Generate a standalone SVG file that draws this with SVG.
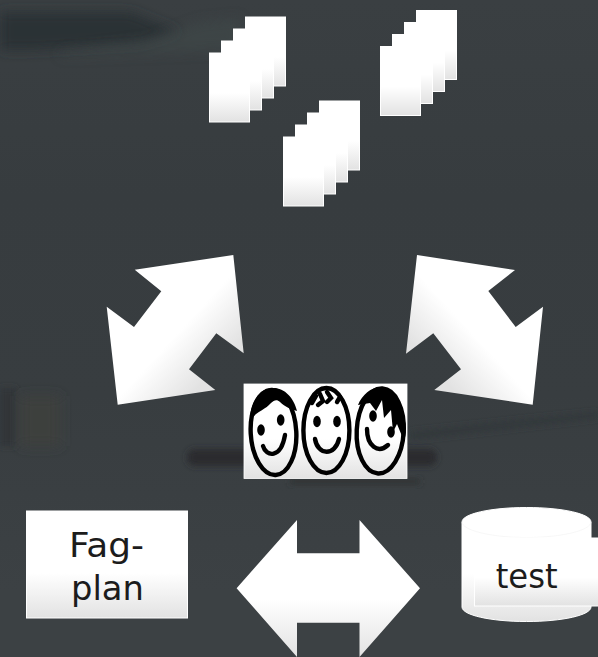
<svg xmlns="http://www.w3.org/2000/svg" xmlns:xlink="http://www.w3.org/1999/xlink" width="598" height="657" viewBox="0 0 598 657">
<style>
.lbl{font-family:"DejaVu Sans","Liberation Sans",sans-serif;font-size:34px;fill:#1c1c1c;text-anchor:middle}
.shape{fill:url(#g);stroke:#fff;stroke-width:1}
.face{fill:none;stroke:#000;stroke-width:4.4}
.ink{fill:#000}
.smile{fill:none;stroke:#000;stroke-width:4.4;stroke-linecap:round}
</style>
<defs>
<linearGradient id="bg" x1="0" y1="0" x2="0" y2="1"><stop offset="0" stop-color="#3a3f42"/><stop offset=".3" stop-color="#373c3f"/><stop offset=".6" stop-color="#383d40"/><stop offset=".9" stop-color="#3c4144"/></linearGradient>
<linearGradient id="g" x1="0" y1="0" x2="0" y2="1"><stop offset="0" stop-color="#fff"/><stop offset=".58" stop-color="#fff"/><stop offset="1" stop-color="#e2e2e2"/></linearGradient>
<linearGradient id="gl" x1="0" y1="0" x2="1" y2="1"><stop offset="0" stop-color="#fff"/><stop offset=".52" stop-color="#fff"/><stop offset=".78" stop-color="#e2e2e2"/></linearGradient>
<linearGradient id="gr" x1="1" y1="0" x2="0" y2="1"><stop offset="0" stop-color="#fff"/><stop offset=".52" stop-color="#fff"/><stop offset=".78" stop-color="#e2e2e2"/></linearGradient>
<filter id="b6" x="-30%" y="-60%" width="160%" height="220%"><feGaussianBlur stdDeviation="6"/></filter>
<filter id="b3" x="-30%" y="-100%" width="160%" height="300%"><feGaussianBlur stdDeviation="3"/></filter>
<filter id="soft" x="-5%" y="-5%" width="110%" height="110%"><feGaussianBlur stdDeviation=".55"/></filter>
<g id="sheets">
<rect class="shape" x="36" y="0.5" width="40" height="69"/>
<rect class="shape" x="24" y="12.5" width="40" height="69"/>
<rect class="shape" x="12" y="24.5" width="40" height="69"/>
<rect class="shape" x="0" y="36.5" width="40" height="69"/>
</g>
</defs>
<g id="background">
<rect width="598" height="657" fill="url(#bg)"/>
<path d="M0 12H130L180 32 140 44 30 50H0Z" fill="#2b3235" filter="url(#b6)"/>
<path d="M60 52 150 40 200 22 240 18 240 50 60 56Z" fill="#41484a" filter="url(#b6)" opacity=".6"/>
<rect x="0" y="388" width="16" height="58" fill="#303437" filter="url(#b3)"/>
<rect x="20" y="396" width="40" height="50" fill="#3d413e" filter="url(#b6)"/>
<path d="M410 432 598 412V418L410 440Z" fill="#33383a" filter="url(#b3)"/>
<rect x="187" y="449" width="250" height="17" rx="8" fill="#292c2e" filter="url(#b3)"/>
<rect x="290" y="479" width="130" height="5" fill="#2d3032" filter="url(#b3)"/>
</g>
<g id="connectors">
<polygon id="arrow-left" style="fill:url(#gl)" points="233.3,255 243.7,353.3 216.3,333.3 189,369.3 215.3,390 117.7,404.7 106.7,306.7 134,327 161.3,291.3 134.7,269.7"/>
<polygon id="arrow-right" style="fill:url(#gr)" points="417,255 515,270 488.3,291 515.7,327 543,306.7 532.7,404.7 434.3,390 461,369.3 433.3,333.3 406,353.7"/>
<polygon id="arrow-bottom" style="fill:url(#g)" points="236.6,588.3 297,520 297,553.3 359.5,553.3 359.5,520 420,588.3 359.5,657 359.5,622.7 297,622.7 297,657"/>
</g>
<g id="stack-1"><use xlink:href="#sheets" href="#sheets" transform="translate(209.5 16.5)"/></g>
<g id="stack-2"><use xlink:href="#sheets" href="#sheets" transform="translate(380.5 10)"/></g>
<g id="stack-3"><use xlink:href="#sheets" href="#sheets" transform="translate(283.5 100.5)"/></g>
<g id="team">
<rect x="244" y="384" width="163" height="94.5" fill="url(#g)" stroke="#fff" stroke-width=".8"/>
<g filter="url(#soft)">
<ellipse class="face" cx="273.5" cy="432.5" rx="22.8" ry="42.5" transform="rotate(-3 273.5 432.5)"/>
<path class="ink" d="M250 420C250 401 260 388 273 388C285 388 294 398 297 411C291 409 285 407 280 402C277 399 274 400 271 403C266 409 258 411 252 418Z"/>
<ellipse class="ink" cx="261" cy="430" rx="3.8" ry="5.8"/>
<ellipse class="ink" cx="280.7" cy="420" rx="3.8" ry="5.8"/>
<path class="smile" d="M263 446C266 457 281 459 285 435"/>
<ellipse class="face" cx="326.4" cy="430.5" rx="23" ry="42.5"/>
<path class="smile" d="M312 403L316 396M318 405L323 401L320 394M327 402L331 398L327 392M337 402L340 397" stroke-width="3.6"/>
<ellipse class="ink" cx="317" cy="421.5" rx="3.8" ry="5.8"/>
<ellipse class="ink" cx="337" cy="421.5" rx="3.8" ry="5.8"/>
<path class="smile" d="M315 439C318 456 335 456 339 439"/>
<ellipse class="face" cx="380.2" cy="431" rx="23.5" ry="42.5" transform="rotate(3 380.2 431)"/>
<path class="ink" d="M358 405C362 395 371 387 381 387C395 388 404 406 406 428C406 434 405 438 404 441L397 424L393 432L391 410L384 418L382 400L376 411L370 403Z"/>
<ellipse class="ink" cx="373" cy="416" rx="3.8" ry="5.8"/>
<ellipse class="ink" cx="391" cy="432" rx="3.8" ry="5.8"/>
<path class="smile" d="M367 429C367 446 378 454 388 445"/>
</g>
</g>
<g id="fagplan">
<rect class="shape" x="26.5" y="511" width="161" height="107"/>
<text class="lbl" x="106.5" y="556.5" textLength="75" lengthAdjust="spacingAndGlyphs">Fag-</text>
<text class="lbl" x="107.5" y="600" textLength="73" lengthAdjust="spacingAndGlyphs">plan</text>
</g>
<g id="test">
<path class="shape" d="M462 522C462 514 490 507.5 526.5 507.5C563 507.5 591 514 591 522V607C591 615 563 621.5 526.5 621.5C490 621.5 462 615 462 607Z"/>
<path d="M462 522C462 530 490 537.5 526.5 537.5C563 537.5 591 530 591 522" fill="none" stroke="#f2f2f2" stroke-width=".6"/>
<rect class="shape" x="474.5" y="538" width="130" height="68"/>
<text class="lbl" x="526.7" y="587.5" textLength="62" lengthAdjust="spacingAndGlyphs">test</text>
</g>
</svg>
